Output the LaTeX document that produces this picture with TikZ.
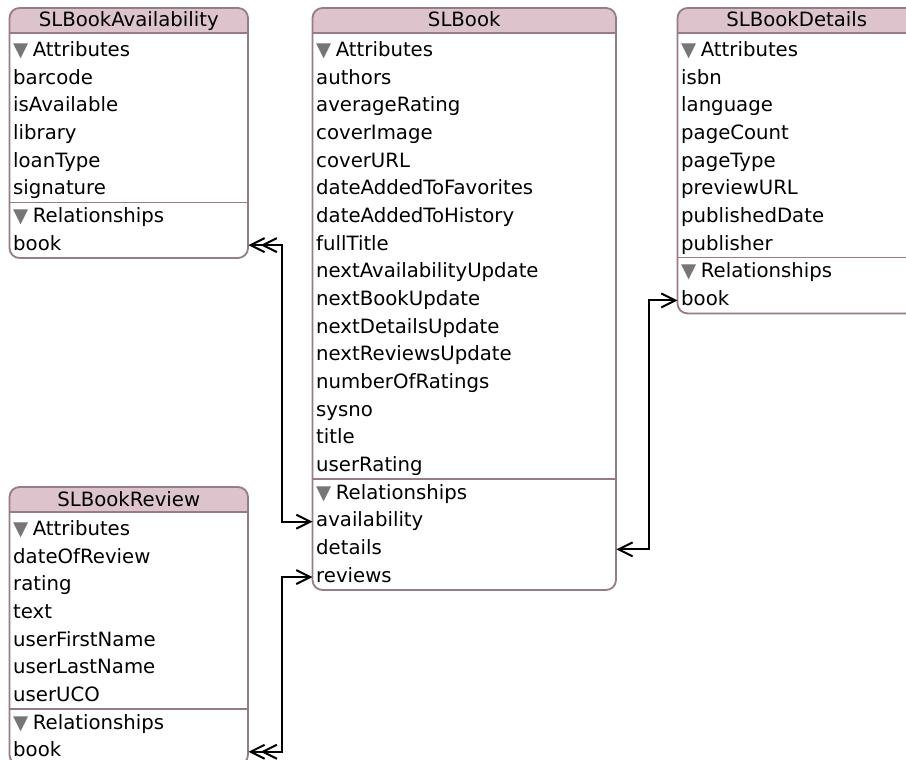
\documentclass[tikz,border=0pt]{standalone}
\usepackage{fontspec}
\setmainfont{DejaVu Sans}
\usetikzlibrary{arrows.meta}
\definecolor{entityline}{RGB}{150,124,138}
\definecolor{entityhead}{RGB}{221,196,204}
\definecolor{trigray}{RGB}{118,118,118}
\newcommand{\secthead}[1]{{\color{trigray}▼}\hspace{4.5pt}#1}
\begin{document}
\begin{tikzpicture}[x=1pt,y=-1pt,
  font=\fontsize{19.7}{23}\selectfont,
  >={Straight Barb[length=14pt,width=14pt]},
  box/.style={draw=entityline,line width=1.8pt,rounded corners=10pt},
  divider/.style={draw=entityline,line width=1.6pt},
  title/.style={anchor=base,inner sep=0pt},
  row/.style={anchor=base west,inner xsep=3.5pt,inner ysep=0pt,text height=14pt,text depth=4pt,align=left},
  conn/.style={draw=black,line width=2pt},
  tomany/.style={{Straight Barb[length=14pt,width=14pt,sep=0pt]Straight Barb[length=14pt,width=14pt,sep=-5pt]}->},
  toone/.style={<->}]
\useasboundingbox (0,0) rectangle (906,760);
% SLBookAvailability
\fill[white,rounded corners=10pt] (9.5,8) rectangle (248,258);
\scope
\clip[rounded corners=10pt] (9.5,8) rectangle (248,258);
\fill[entityhead] (9.5,8) rectangle (248,33);
\endscope
\draw[box] (9.5,8) rectangle (248,258);
\draw[divider] (9.5,33) -- (248,33);
\draw[divider] (9.5,202.3) -- (248,202.3);
\node[title] (avail) at (128.75,27) {SLBookAvailability};
\node[row,text width=231.5pt] (avail-attrs) at (9.5,56.5) {\secthead{Attributes}};
\foreach \n [count=\i] in {barcode,isAvailable,library,loanType,signature}
  \node[row,text width=231.5pt] (avail-\n) at (9.5,{56.5+27.66*\i}) {\n};
\node[row,text width=231.5pt] (avail-rels) at (9.5,222.5) {\secthead{Relationships}};
\node[row,text width=231.5pt] (avail-book) at (9.5,250.1) {book};
% SLBook
\fill[white,rounded corners=10pt] (312.5,8) rectangle (616,590);
\scope
\clip[rounded corners=10pt] (312.5,8) rectangle (616,590);
\fill[entityhead] (312.5,8) rectangle (616,33);
\endscope
\draw[box] (312.5,8) rectangle (616,590);
\draw[divider] (312.5,33) -- (616,33);
\draw[divider] (312.5,478.9) -- (616,478.9);
\node[title] (book) at (464.25,27) {SLBook};
\node[row,text width=296.5pt] (book-attrs) at (312.5,56.5) {\secthead{Attributes}};
\foreach \n [count=\i] in {authors,averageRating,coverImage,coverURL,dateAddedToFavorites,dateAddedToHistory,fullTitle,nextAvailabilityUpdate,nextBookUpdate,nextDetailsUpdate,nextReviewsUpdate,numberOfRatings,sysno,title,userRating}
  \node[row,text width=296.5pt] (book-\n) at (312.5,{56.5+27.66*\i}) {\n};
\node[row,text width=296.5pt] (book-rels) at (312.5,499.1) {\secthead{Relationships}};
\foreach \n [count=\i from 17] in {availability,details,reviews}
  \node[row,text width=296.5pt] (book-\n) at (312.5,{56.5+27.66*\i}) {\n};
% SLBookDetails
\fill[white,rounded corners=10pt] (677.5,8) rectangle (916,313.4);
\scope
\clip[rounded corners=10pt] (677.5,8) rectangle (916,313.4);
\fill[entityhead] (677.5,8) rectangle (916,33);
\endscope
\draw[box] (677.5,8) rectangle (916,313.4);
\draw[divider] (677.5,33) -- (916,33);
\draw[divider] (677.5,257.6) -- (916,257.6);
\node[title] (details) at (796.75,27) {SLBookDetails};
\node[row,text width=231.5pt] (details-attrs) at (677.5,56.5) {\secthead{Attributes}};
\foreach \n [count=\i] in {isbn,language,pageCount,pageType,previewURL,publishedDate,publisher}
  \node[row,text width=231.5pt] (details-\n) at (677.5,{56.5+27.66*\i}) {\n};
\node[row,text width=231.5pt] (details-rels) at (677.5,277.8) {\secthead{Relationships}};
\node[row,text width=231.5pt] (details-book) at (677.5,305.4) {book};
% SLBookReview
\fill[white,rounded corners=10pt] (9.5,487) rectangle (248,764.8);
\scope
\clip[rounded corners=10pt] (9.5,487) rectangle (248,764.8);
\fill[entityhead] (9.5,487) rectangle (248,512);
\endscope
\draw[box] (9.5,487) rectangle (248,764.8);
\draw[divider] (9.5,512) -- (248,512);
\draw[divider] (9.5,709) -- (248,709);
\node[title] (review) at (128.75,506) {SLBookReview};
\node[row,text width=231.5pt] (review-attrs) at (9.5,535.5) {\secthead{Attributes}};
\foreach \n [count=\i] in {dateOfReview,rating,text,userFirstName,userLastName,userUCO}
  \node[row,text width=231.5pt] (review-\n) at (9.5,{535.5+27.66*\i}) {\n};
\node[row,text width=231.5pt] (review-rels) at (9.5,729.1) {\secthead{Relationships}};
\node[row,text width=231.5pt] (review-book) at (9.5,756.8) {book};
% relationships
\coordinate (leftbus) at (281.5,0);
\coordinate (rightbus) at (648.5,0);
\draw[conn,tomany] (avail-book.east) -- (avail-book.east -| leftbus) |- (book-availability.west);
\draw[conn,tomany] (review-book.east) -- (review-book.east -| leftbus) |- (book-reviews.west);
\draw[conn,toone] (details-book.west) -- (details-book.west -| rightbus) |- (book-details.east);
\end{tikzpicture}
\end{document}
